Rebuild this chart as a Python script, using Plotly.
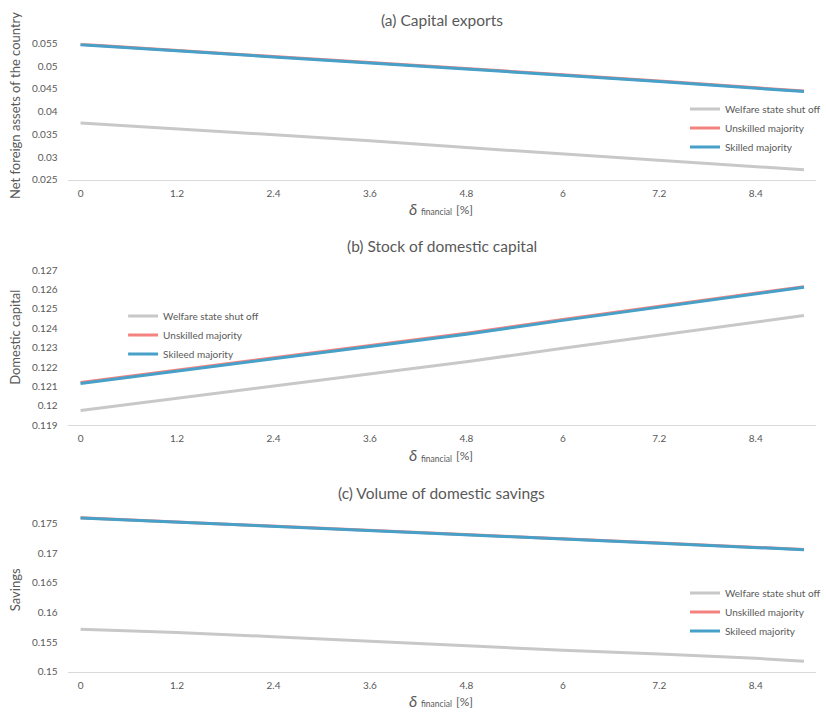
import plotly.graph_objects as go

# delta_financial [%] at which the series are reported
delta = [0, 1.2, 2.4, 3.6, 4.8, 6.0, 7.2, 8.4, 9.0]
tick_vals = [0, 1.2, 2.4, 3.6, 4.8, 6.0, 7.2, 8.4]
tick_text = ["0", "1.2", "2.4", "3.6", "4.8", "6", "7.2", "8.4"]

# (a) Net foreign assets
nfa_shutoff = [0.0375, 0.0362, 0.0350, 0.0336, 0.0321, 0.0307, 0.0293, 0.0279, 0.0272]
nfa_unskilled = [0.0548, 0.0534, 0.0521, 0.0508, 0.0495, 0.0481, 0.0467, 0.0453, 0.0445]
nfa_skilled = [0.0547, 0.0533, 0.0520, 0.0507, 0.0494, 0.0480, 0.0466, 0.0452, 0.0444]

# (b) Domestic capital
cap_shutoff = [0.11976, 0.12039, 0.12103, 0.12166, 0.12228, 0.12297, 0.12365, 0.12434, 0.12466]
cap_unskilled = [0.12121, 0.12185, 0.12248, 0.12312, 0.12375, 0.12445, 0.12513, 0.12581, 0.12615]
cap_skilled = [0.12116, 0.12180, 0.12243, 0.12307, 0.12370, 0.12441, 0.12509, 0.12578, 0.12612]

# (c) Savings
sav_shutoff = [0.15719, 0.15662, 0.15591, 0.15513, 0.15432, 0.15364, 0.15298, 0.15226, 0.15177]
sav_unskilled = [0.17597, 0.17528, 0.17458, 0.17386, 0.17314, 0.17243, 0.17170, 0.17100, 0.17063]
sav_skilled = [0.17594, 0.17525, 0.17455, 0.17383, 0.17311, 0.17240, 0.17167, 0.17097, 0.17060]

W, H = 826, 719
TXT = "#595959"
FONT = "Lato"
GRAY, RED, BLUE = "#c8c8c8", "#f4837f", "#46a0c8"


def px_y(p):
    return 1 - p / H


def px_x(p):
    return p / W


fig = go.Figure()

panels = [
    dict(ys=(nfa_shutoff, nfa_unskilled, nfa_skilled), names=("Welfare state shut off", "Unskilled majority", "Skilled majority"),
         legend="legend", ax="", yrange=[0.025, 0.055], ytick=[0.025, 0.03, 0.035, 0.04, 0.045, 0.05, 0.055],
         yfmt=["0.025", "0.03", "0.035", "0.04", "0.045", "0.05", "0.055"], dom=(176, 37)),
    dict(ys=(cap_shutoff, cap_unskilled, cap_skilled), names=("Welfare state shut off", "Unskilled majority", "Skileed majority"),
         legend="legend2", ax="2", yrange=[0.119, 0.127], ytick=[0.119 + 0.001 * i for i in range(9)],
         yfmt=["0.119", "0.12", "0.121", "0.122", "0.123", "0.124", "0.125", "0.126", "0.127"], dom=(426, 268)),
    dict(ys=(sav_shutoff, sav_unskilled, sav_skilled), names=("Welfare state shut off", "Unskilled majority", "Skileed majority"),
         legend="legend3", ax="3", yrange=[0.15, 0.1765], ytick=[0.15, 0.155, 0.16, 0.165, 0.17, 0.175],
         yfmt=["0.15", "0.155", "0.16", "0.165", "0.17", "0.175"], dom=(677, 517)),
]

for p in panels:
    for y, name, col in zip(p["ys"], p["names"], (GRAY, RED, BLUE)):
        fig.add_trace(go.Scatter(
            x=delta, y=y, name=name, mode="lines",
            line=dict(color=col, width=3),
            xaxis="x" + p["ax"], yaxis="y" + p["ax"], legend=p["legend"],
        ))

layout = dict(
    width=W, height=H,
    margin=dict(l=0, r=0, t=0, b=0),
    paper_bgcolor="white", plot_bgcolor="white",
    font=dict(family=FONT, color=TXT, size=10),
    annotations=[],
)

for p in panels:
    ax = p["ax"]
    layout["xaxis" + ax] = dict(
        domain=[px_x(69), px_x(822)], anchor="y" + ax,
        range=[-0.15, 9.15], tickvals=tick_vals, ticktext=tick_text,
        showline=True, linecolor="#d9d9d9", linewidth=1,
        showgrid=False, zeroline=False, ticks="",
        tickfont=dict(size=10, color=TXT), ticklabelstandoff=4,
    )
    layout["yaxis" + ax] = dict(
        domain=[px_y(p["dom"][0]), px_y(p["dom"][1])], anchor="x" + ax,
        range=p["yrange"], tickvals=p["ytick"], ticktext=p["yfmt"],
        showline=False, showgrid=False, zeroline=False, ticks="",
        tickfont=dict(size=10, color=TXT), ticklabelstandoff=10,
    )

legend_style = dict(font=dict(size=10, color=TXT), bgcolor="rgba(0,0,0,0)",
                    xanchor="left", yanchor="top", tracegroupgap=0, itemwidth=30)
layout["legend"] = dict(x=px_x(690), y=px_y(89), **legend_style)
layout["legend2"] = dict(x=px_x(124), y=px_y(300), **legend_style)
layout["legend3"] = dict(x=px_x(690), y=px_y(582), **legend_style)


def note(text, xp, yp, size, xanchor="center", angle=0, italic=False):
    layout["annotations"].append(dict(
        text=text, x=px_x(xp), y=px_y(yp), xref="paper", yref="paper",
        showarrow=False, xanchor=xanchor, yanchor="middle", textangle=angle,
        font=dict(size=size, color=TXT, family=FONT, style="italic" if italic else "normal")))


# panel titles
for t, yp in [("(a) Capital exports", 13), ("(b) Stock of domestic capital", 243),
              ("(c) Volume of domestic savings", 495)]:
    note(t, 445, yp, 15.5)

# y-axis titles
for t, yp in [("Net foreign assets of the country", 100), ("Domestic capital", 336), ("Savings", 593)]:
    note(t, 15, yp, 13, angle=-90)

# x-axis titles: delta with "financial" subscript and unit
for yp in (205, 456, 706):
    note("δ", 422, yp, 16, xanchor="right", italic=True)
    note("financial", 422, yp + 4, 8.5, xanchor="left")
    note("[%]", 457, yp + 1, 12, xanchor="left")

fig.update_layout(**layout)
fig.write_html("out.html")
